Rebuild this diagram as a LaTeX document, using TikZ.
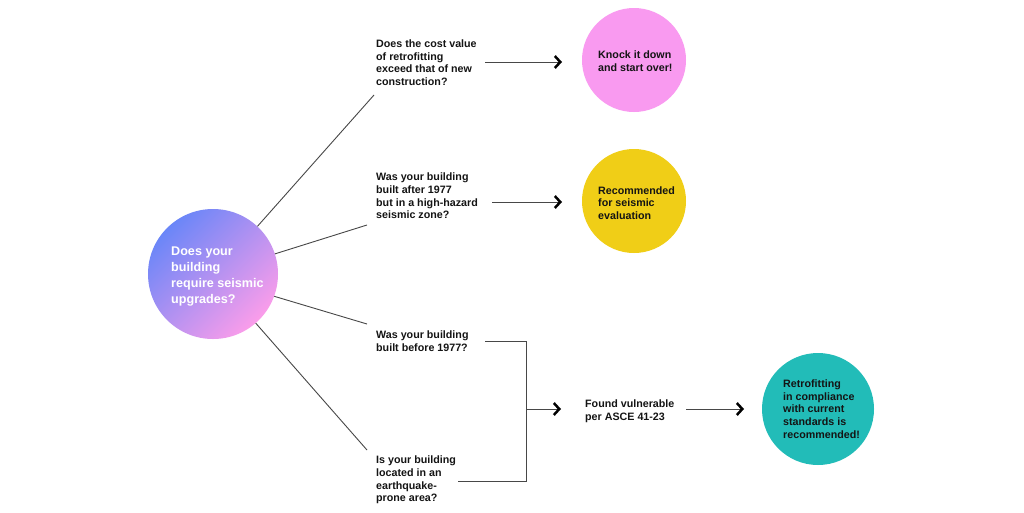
\documentclass[tikz,border=0pt]{standalone}
\usepackage{fontspec}
\setmainfont{Liberation Sans}
\usetikzlibrary{arrows.meta}
\definecolor{mblue}{HTML}{6A86F8}
\definecolor{mpink}{HTML}{FB9DEA}
\definecolor{cpink}{HTML}{F99AF0}
\definecolor{cyellow}{HTML}{F0CE17}
\definecolor{cteal}{HTML}{22BCB8}
\definecolor{txt}{HTML}{141414}
\begin{document}
\begin{tikzpicture}[x=1pt,y=-1pt,
  q/.style={anchor=west, align=left, inner sep=0pt, text=txt, font=\bfseries\fontsize{10.7}{12.6}\selectfont},
  conn/.style={draw=black!72, line width=0.9pt},
  arr/.style={conn, -{Straight Barb[color=black, length=5.5pt, width=12pt, line width=2.5pt]}},
  ball/.style={circle, inner sep=0pt, minimum size=#1},
]
\useasboundingbox (0,0) rectangle (1024,512);
\fill[white] (0,0) rectangle (1024,512);

% main circle
\node[ball=130pt, top color=mblue, bottom color=mpink, middle color=mblue!50!mpink, shading angle=45] (m) at (213,274) {};
\node[anchor=west, align=left, inner sep=0pt, text=white, font=\bfseries\fontsize{12.6}{16}\selectfont] (mt) at (171,276) {Does your\\building\\require seismic\\upgrades?};

% result circles
\node[ball=104pt, fill=cpink] (r1) at (634,60) {};
\node[ball=104pt, fill=cyellow] (r2) at (634,201) {};
\node[ball=112pt, fill=cteal] (r3) at (818,409) {};
\node[q] (r1t) at (598,61) {Knock it down\\and start over!};
\node[q] (r2t) at (598,203) {Recommended\\for seismic\\evaluation};
\node[q] (r3t) at (783,409) {Retrofitting\\in compliance\\with current\\standards is\\recommended!};

% questions
\node[q] (q1) at (376,62.5) {Does the cost value\\of retrofitting\\exceed that of new\\construction?};
\node[q] (q2) at (376,196) {Was your building\\built after 1977\\but in a high-hazard\\seismic zone?};
\node[q] (q3) at (376,341) {Was your building\\built before 1977?};
\node[q] (q4) at (376,480) {Is your building\\located in an\\earthquake-\\prone area?};
\node[q] (fv) at (585,411) {Found vulnerable\\per ASCE 41-23};

% line end points near questions
\coordinate (e1) at (374,95);
\coordinate (e2) at (367,225);
\coordinate (e3) at (367,324);
\coordinate (e4) at (367,450);
\draw[conn] (m.47.5) -- (e1);
\draw[conn] (m.18) -- (e2);
\draw[conn] (m.-20) -- (e3);
\draw[conn] (m.-49) -- (e4);

% arrows to results
\coordinate (a1s) at (485,62);
\coordinate (a1e) at (562,62);
\coordinate (a2s) at (492,202);
\coordinate (a2e) at (562,202);
\draw[arr] (a1s) -- (a1e);
\draw[arr] (a2s) -- (a2e);

% bracket
\coordinate (b1) at (485,341);
\coordinate (b2) at (526,341);
\coordinate (b3) at (526,481);
\coordinate (b4) at (458,481);
\coordinate (bm) at (526,409);
\coordinate (bme) at (561,409);
\draw[conn] (b1) -- (b2) -- (b3) -- (b4);
\draw[arr] (bm) -- (bme);

\coordinate (a3s) at (686,409);
\coordinate (a3e) at (744,409);
\draw[arr] (a3s) -- (a3e);
\end{tikzpicture}
\end{document}
